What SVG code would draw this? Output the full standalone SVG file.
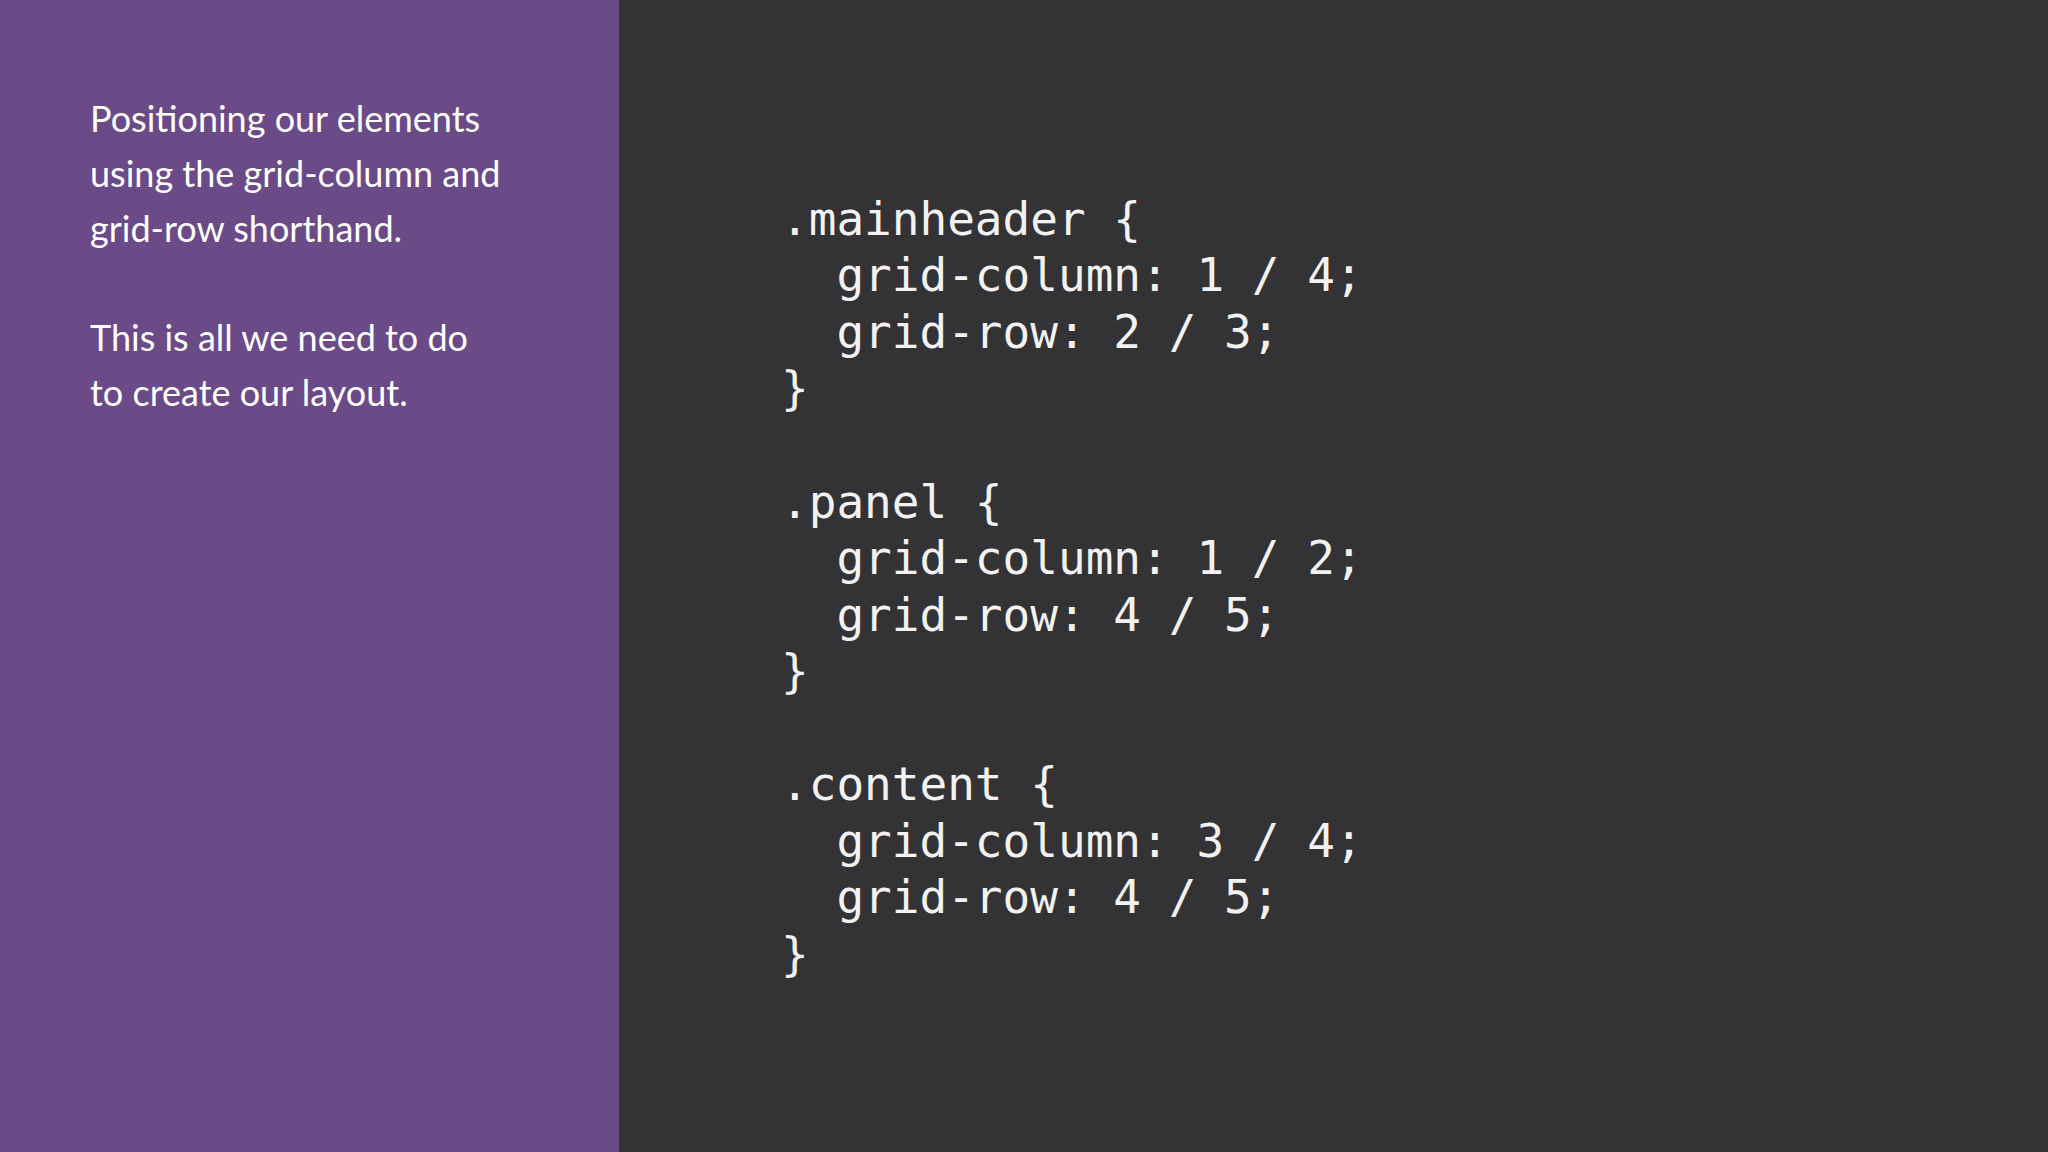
<svg xmlns="http://www.w3.org/2000/svg" width="2048" height="1152" viewBox="0 0 2048 1152">
<style>
.t{font-family:"Lato","Liberation Sans",sans-serif;font-size:36px;fill:#ffffff}
.c{font-family:"DejaVu Sans Mono","Liberation Mono",monospace;font-size:46px;fill:#f2f2f2;white-space:pre}
</style>
<rect x="0" y="0" width="2048" height="1152" fill="#333335"/>
<g id="sidebar">
<rect x="0" y="0" width="619" height="1152" fill="#6a4a87"/>
<text class="t" x="90" y="132">Positioning our elements</text>
<text class="t" x="90" y="187">using the grid-column and</text>
<text class="t" x="90" y="242">grid-row shorthand.</text>
<text class="t" x="90" y="351">This is all we need to do</text>
<text class="t" x="90" y="406">to create our layout.</text>
</g>
<g id="code">
<text class="c" x="781" y="235">.mainheader {</text>
<text class="c" x="781" y="291">  grid-column: 1 / 4;</text>
<text class="c" x="781" y="348">  grid-row: 2 / 3;</text>
<text class="c" x="781" y="404">}</text>
<text class="c" x="781" y="518">.panel {</text>
<text class="c" x="781" y="574">  grid-column: 1 / 2;</text>
<text class="c" x="781" y="631">  grid-row: 4 / 5;</text>
<text class="c" x="781" y="687">}</text>
<text class="c" x="781" y="800">.content {</text>
<text class="c" x="781" y="857">  grid-column: 3 / 4;</text>
<text class="c" x="781" y="913">  grid-row: 4 / 5;</text>
<text class="c" x="781" y="970">}</text>
</g>
</svg>
